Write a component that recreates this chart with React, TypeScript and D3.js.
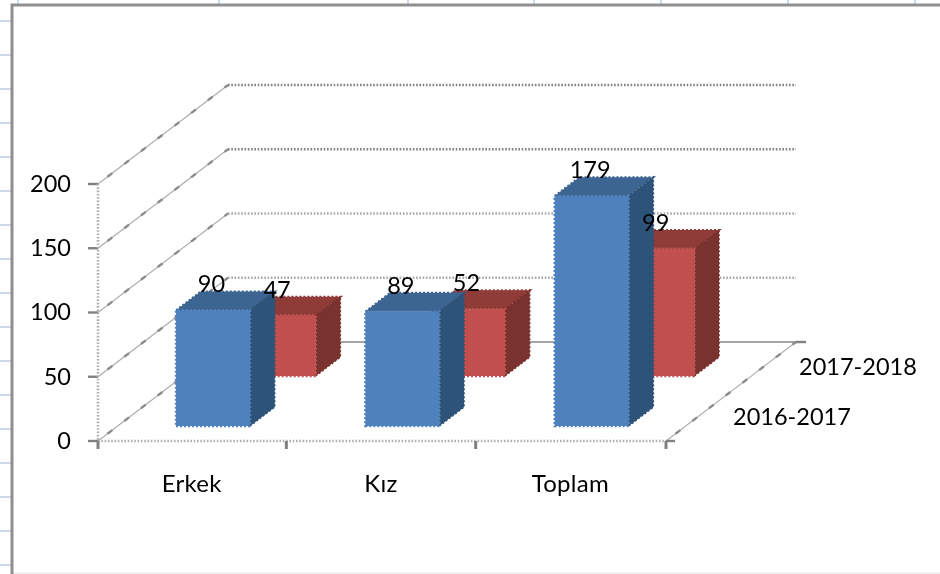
import React from "react";
import * as d3 from "d3";

const categories = ["Erkek", "Kız", "Toplam"];
const seriesNames = ["2016-2017", "2017-2018"];
const values2016 = [90, 89, 179];
const values2017 = [47, 52, 99];
const yTicks = [0, 50, 100, 150, 200];
const sideTicksY = d3.range(21, 574, 34);
const topTicksX = [18, 219, 408, 534, 661, 788, 915];

const W = 940, H = 574;
const x = d3.scaleBand<string>().domain(categories).range([98, 666]);
const y = d3.scaleLinear().domain([0, 200]).range([441, 184]);
const depthX = d3.scaleLinear().domain([0, 1]).range([0, 130]);
const depthY = d3.scaleLinear().domain([0, 1]).range([0, -99]);
const P = (px: number, val: number, depth: number): [number, number] => [px + depthX(depth), y(val) + depthY(depth)];
const line = d3.line();
const poly = (pts: [number, number][]) => line(pts) + "Z";

const barW = 74;
const barDepth = 0.19;
const seriesDepth = [0.152, 0.657];
const palettes = [
  { front: "#4f81bd", top: "#3e6591", side: "#2f5279" },
  { front: "#c0504d", top: "#8f3a38", side: "#7a302e" },
];
const seriesValues = [values2016, values2017];
const font = "Lato, Carlito, 'Open Sans', sans-serif";

function Bar({ cat, val, s }: { cat: string; val: number; s: number }) {
  const c = palettes[s];
  const dOff = seriesDepth[s];
  const cx = x(cat)! + x.bandwidth() / 2 + 0.6;
  const x0 = cx - barW / 2;
  const x1 = x0 + barW;
  const d0 = dOff, d1 = dOff + barDepth;
  const front = poly([P(x0, 0, d0), P(x1, 0, d0), P(x1, val, d0), P(x0, val, d0)]);
  const top = poly([P(x0, val, d0), P(x1, val, d0), P(x1, val, d1), P(x0, val, d1)]);
  const side = poly([P(x1, 0, d0), P(x1, 0, d1), P(x1, val, d1), P(x1, val, d0)]);
  return (
    <g>
      <path d={top} fill={c.top} stroke={c.top} strokeWidth={2} strokeDasharray="2 2" />
      <path d={side} fill={c.side} stroke={c.side} strokeWidth={1.5} strokeDasharray="2 2" />
      <path d={front} fill={c.front} stroke={c.front} strokeWidth={2.4} strokeDasharray="2 2" />
    </g>
  );
}

function Diagonal({ from, to }: { from: [number, number]; to: [number, number] }) {
  return (
    <g fill="none">
      <line x1={from[0]} y1={from[1]} x2={to[0]} y2={to[1]} stroke="#ababab" strokeWidth={1.1} />
      <line x1={from[0]} y1={from[1]} x2={to[0]} y2={to[1]} stroke="#8c8c8c" strokeWidth={2.4} strokeDasharray="6 15" strokeDashoffset={-12} />
    </g>
  );
}

export default function App() {
  const left = x.range()[0], right = x.range()[1];
  const xTicks = [left, ...categories.map((c) => x(c)! + x.bandwidth() - 1)];
  xTicks[3] = right;
  const numProps = { fontFamily: font, fontSize: 23.5, fill: "#000", dominantBaseline: "middle" as const };
  const catProps = { ...numProps, fontSize: 24, letterSpacing: 0.25 };
  return (
    <svg width={W} height={H} viewBox={`0 0 ${W} ${H}`} style={{ position: "fixed", left: 0, top: 0, background: "#fff" }}>
      <defs>
        <filter id="soft" x="0" y="0" width="100%" height="100%">
          <feGaussianBlur stdDeviation="0.5" />
        </filter>
      </defs>
      <g filter="url(#soft)">
        {/* worksheet behind the chart */}
        {sideTicksY.map((t) => (
          <line key={t} x1={0} x2={11} y1={t} y2={t} stroke="#cdd8ea" strokeWidth={2} />
        ))}
        {topTicksX.map((t) => (
          <line key={t} x1={t} x2={t} y1={0} y2={4} stroke="#cdd8ea" strokeWidth={2} />
        ))}
        <line x1={12} x2={W} y1={573} y2={573} stroke="#e4e4e4" strokeWidth={1} />
        <path d={`M12 ${H}V5H${W}`} fill="none" stroke="#8f8f8f" strokeWidth={3} />

        {/* walls */}
        {yTicks.map((t) => {
          const a = P(left, t, 0), b = P(left, t, 1), c = P(right, t, 1);
          return (
            <g key={t}>
              <Diagonal from={a} to={b} />
              {t === 0 ? (
                <line x1={b[0]} x2={c[0] + 10} y1={b[1]} y2={c[1]} stroke="#a6a6a6" strokeWidth={2} />
              ) : (
                <line x1={b[0]} x2={c[0]} y1={b[1]} y2={c[1]} stroke={t >= 150 ? "#808080" : "#a8a8a8"} strokeWidth={2.6} strokeDasharray="1.6 1.7" />
              )}
              <line x1={left - 10} x2={left} y1={a[1]} y2={a[1]} stroke="#808080" strokeWidth={2.4} />
              <text {...numProps} x={71} y={a[1] + 2} textAnchor="end">{t}</text>
            </g>
          );
        })}
        <line x1={left} x2={left} y1={y(200)} y2={y(0)} stroke="#b0b0b0" strokeWidth={2.6} strokeDasharray="1.6 1.7" />
        <line x1={left} x2={right} y1={y(0)} y2={y(0)} stroke="#b0b0b0" strokeWidth={2.6} strokeDasharray="1.6 1.7" />
        <Diagonal from={P(right, 0, 0)} to={P(right, 0, 1)} />

        {/* axis ticks */}
        {xTicks.map((t) => (
          <line key={t} x1={t} x2={t} y1={y(0)} y2={y(0) + 8} stroke="#808080" strokeWidth={3} />
        ))}
        <line x1={right} x2={right + 9} y1={y(0)} y2={y(0)} stroke="#808080" strokeWidth={2.4} />
        <line x1={P(right, 0, 1)[0]} x2={P(right, 0, 1)[0] + 10} y1={P(right, 0, 1)[1]} y2={P(right, 0, 1)[1]} stroke="#808080" strokeWidth={2.4} />

        {/* bars, back series first */}
        {categories.map((cat, i) => (
          <g key={cat}>
            <Bar cat={cat} val={seriesValues[1][i]} s={1} />
            <Bar cat={cat} val={seriesValues[0][i]} s={0} />
          </g>
        ))}

        {/* data labels */}
        {categories.map((cat, i) =>
          seriesNames.map((_, s) => {
            const cx = x(cat)! + x.bandwidth() / 2;
            const val = seriesValues[s][i];
            const p = P(cx, val, seriesDepth[s]);
            return (
              <text {...numProps} key={s} x={p[0] - 1} y={p[1] - 24} textAnchor="middle">{val}</text>
            );
          })
        )}

        {/* category and series labels */}
        {categories.map((cat) => (
          <text {...catProps} key={cat} x={x(cat)! + x.bandwidth() / 2 - 1} y={485.5} textAnchor="middle">{cat}</text>
        ))}
        {seriesNames.map((n, s) => (
          <text {...numProps} key={n} x={s === 0 ? 733 : 799} y={s === 0 ? 419.5 : 369.5}>{n}</text>
        ))}
      </g>
    </svg>
  );
}
